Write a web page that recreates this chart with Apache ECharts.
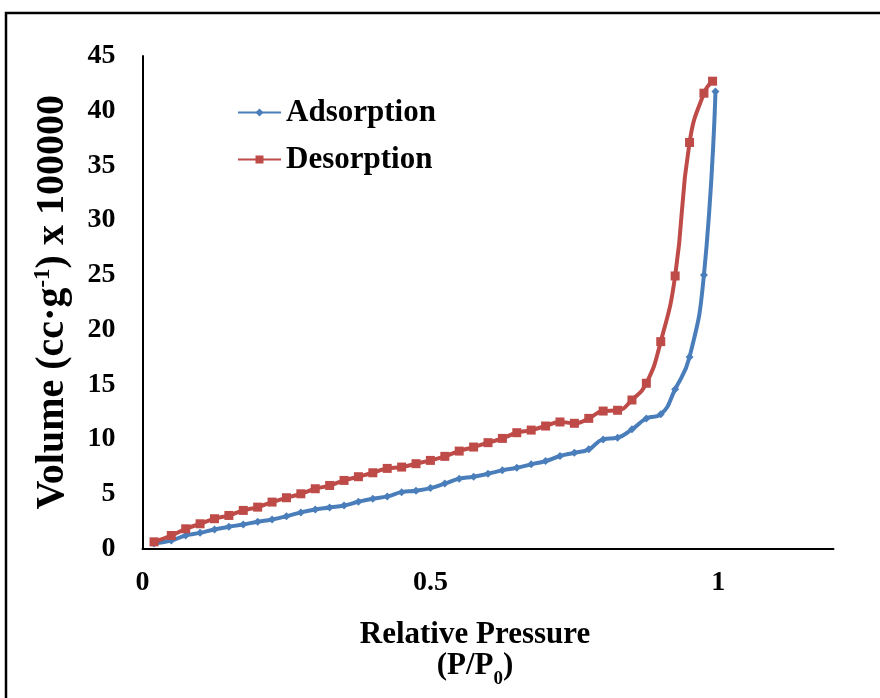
<!DOCTYPE html>
<html>
<head>
<meta charset="utf-8">
<title>Adsorption / Desorption isotherm</title>
<script src="https://cdn.jsdelivr.net/npm/echarts@6/dist/echarts.min.js"></script>
<style>
  html, body { margin: 0; padding: 0; background: #fff; }
  #main { width: 880px; height: 698px; }
</style>
</head>
<body>
<div id="main"></div>
<script>
// relative pressure P/P0 (same for both branches, last point differs a bit)
const adsX = [0.02, 0.05, 0.075, 0.1, 0.125, 0.15, 0.175, 0.2, 0.225, 0.25,
  0.275, 0.3, 0.325, 0.35, 0.375, 0.4, 0.425, 0.45, 0.475, 0.5,
  0.525, 0.55, 0.575, 0.6, 0.625, 0.65, 0.675, 0.7, 0.725, 0.75,
  0.775, 0.8, 0.825, 0.85, 0.875, 0.9, 0.925, 0.95, 0.975, 0.995];
const adsY = [0.46, 0.73, 1.19, 1.43, 1.74, 1.98, 2.2, 2.44, 2.65, 2.95,
  3.3, 3.57, 3.75, 3.93, 4.27, 4.55, 4.76, 5.15, 5.28, 5.52,
  5.93, 6.38, 6.56, 6.83, 7.14, 7.38, 7.69, 7.99, 8.45, 8.75,
  9.06, 9.97, 10.13, 10.89, 11.87, 12.26, 14.55, 17.5, 25.0, 41.75];
const desX = [0.02, 0.05, 0.075, 0.1, 0.125, 0.15, 0.175, 0.2, 0.225, 0.25,
  0.275, 0.3, 0.325, 0.35, 0.375, 0.4, 0.425, 0.45, 0.475, 0.5,
  0.525, 0.55, 0.575, 0.6, 0.625, 0.65, 0.675, 0.7, 0.725, 0.75,
  0.775, 0.8, 0.825, 0.85, 0.875, 0.9, 0.925, 0.95, 0.975, 0.99];
const desY = [0.61, 1.19, 1.8, 2.26, 2.72, 3.02, 3.48, 3.78, 4.24, 4.64,
  5.0, 5.46, 5.76, 6.22, 6.56, 6.92, 7.32, 7.44, 7.75, 8.05,
  8.42, 8.9, 9.27, 9.67, 10.06, 10.58, 10.82, 11.19, 11.56, 11.44,
  11.89, 12.56, 12.63, 13.57, 15.1, 18.9, 24.9, 37.1, 41.6, 42.7];

const zip = (xs, ys) => xs.map((x, i) => [x, ys[i]]);

const FONT = '"Liberation Serif", "Times New Roman", serif';
const txt = { fontFamily: FONT, fontWeight: 'bold', color: '#000' };

const chart = echarts.init(document.getElementById('main'));

const option = {
  backgroundColor: '#fff',
  animation: false,
  // outer frame of the figure (runs off the right and bottom edge)
  graphic: [{
    type: 'rect',
    shape: { x: 6, y: 13, width: 900, height: 720 },
    style: { fill: 'none', stroke: '#000', lineWidth: 2.5 },
    silent: true
  }],
  grid: { left: 142.5, top: 56, width: 691, height: 492.5 },
  legend: {
    orient: 'vertical',
    left: 232,
    top: 92,
    itemWidth: 43,
    itemHeight: 10,
    itemGap: 16,
    textStyle: { ...txt, fontSize: 31 },
    data: ['Adsorption', 'Desorption']
  },
  xAxis: {
    type: 'value',
    min: 0,
    max: 1.2,
    interval: 0.5,
    name: '{a|Relative Pressure}\n{a|(P/P}{sub|0}{a|)}',
    nameLocation: 'middle',
    nameGap: 71,
    nameTextStyle: {
      ...txt,
      padding: [0, 26, 0, 0],
      rich: {
        a: { ...txt, fontSize: 31, lineHeight: 31 },
        sub: { ...txt, fontSize: 19, lineHeight: 31, verticalAlign: 'bottom', padding: [0, 0, -7, 0] }
      }
    },
    axisLine: { lineStyle: { color: '#000', width: 2 } },
    axisTick: { show: false },
    splitLine: { show: false },
    axisLabel: {
      ...txt,
      fontSize: 28,
      margin: 20,
      showMaxLabel: false,
      formatter: v => (v > 1.1 ? '' : String(v))
    }
  },
  yAxis: {
    type: 'value',
    min: 0,
    max: 45,
    interval: 5,
    name: '{a|Volume (cc·g}{sup|-1}{a|) x 100000}',
    nameLocation: 'middle',
    nameRotate: 90,
    nameGap: 69,
    nameTextStyle: {
      ...txt,
      rich: {
        a: { ...txt, fontSize: 40, lineHeight: 42 },
        sup: { ...txt, fontSize: 23, lineHeight: 42, verticalAlign: 'top', padding: [0, 0, 12, 0] }
      }
    },
    axisLine: { show: true, lineStyle: { color: '#000', width: 2 } },
    axisTick: { show: false },
    splitLine: { show: false },
    axisLabel: { ...txt, fontSize: 28, margin: 27 }
  },
  series: [
    {
      name: 'Adsorption',
      type: 'line',
      data: zip(adsX, adsY),
      smooth: 0.5,
      symbol: 'diamond',
      symbolSize: 8,
      color: '#4A7EBB',
      lineStyle: { width: 4, color: '#4A7EBB' },
      itemStyle: { color: '#4A7EBB' }
    },
    {
      name: 'Desorption',
      type: 'line',
      data: zip(desX, desY),
      smooth: 0.5,
      symbol: 'rect',
      symbolSize: 9,
      color: '#BE4B48',
      lineStyle: { width: 4, color: '#BE4B48' },
      itemStyle: { color: '#BE4B48' }
    }
  ]
};

chart.setOption(option);
window.addEventListener('resize', () => chart.resize());
</script>
</body>
</html>
